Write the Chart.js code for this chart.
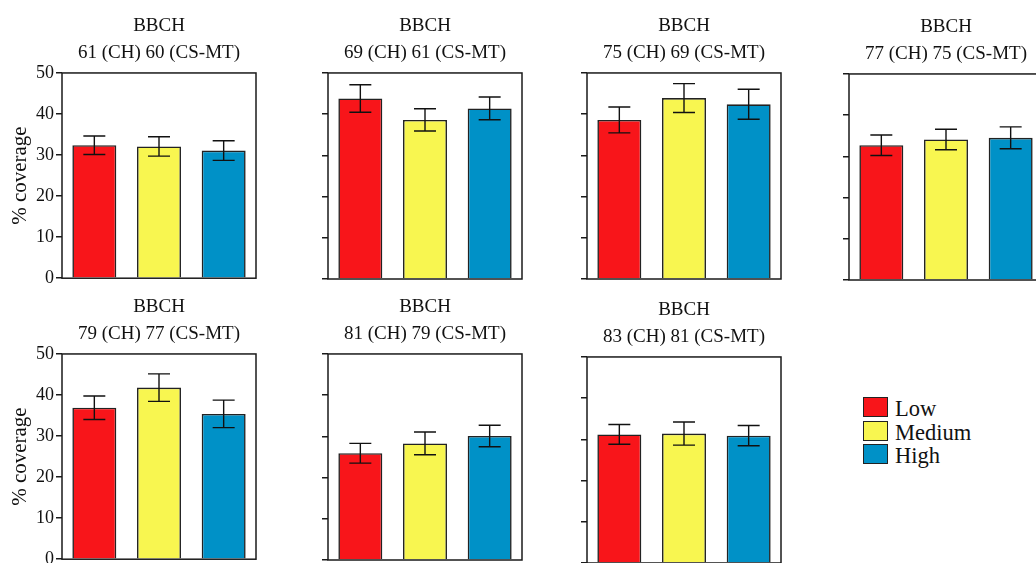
<!DOCTYPE html>
<html><head><meta charset="utf-8">
<script src="https://cdn.jsdelivr.net/npm/chart.js@4.4.1/dist/chart.umd.min.js"></script>
<style>
html,body{margin:0;padding:0;background:#fff;width:1036px;height:563px;overflow:hidden;position:relative;}
.panel{position:absolute;}
.lg-box{position:absolute;width:23.5px;height:18px;border:1.5px solid #222;}
.lg-text{position:absolute;font-family:'Liberation Serif','DejaVu Serif',serif;font-size:22.5px;line-height:22px;color:#111;white-space:nowrap;}
</style></head><body>
<script>
// ---- data ----
const stageLabels = ['61 (CH) 60 (CS-MT)','69 (CH) 61 (CS-MT)','75 (CH) 69 (CS-MT)','77 (CH) 75 (CS-MT)','79 (CH) 77 (CS-MT)','81 (CH) 79 (CS-MT)','83 (CH) 81 (CS-MT)'];
const levels = ['Low','Medium','High'];
const lowMean    = [32.4, 43.8, 38.6, 32.7, 36.9, 25.9, 31.2];
const mediumMean = [32.1, 38.6, 43.9, 34.1, 41.8, 28.3, 31.4];
const highMean   = [31.1, 41.4, 42.4, 34.5, 35.4, 30.1, 30.9];
const lowErr     = [2.25, 3.35, 3.15, 2.5, 2.85, 2.4, 2.4];
const mediumErr  = [2.35, 2.7, 3.5, 2.5, 3.35, 2.75, 2.8];
const highErr    = [2.4, 2.75, 3.65, 2.65, 3.35, 2.6, 2.45];
const yTickValues = [0, 10, 20, 30, 40, 50];
const yAxisTitle = '% coverage';
const panelTitle = 'BBCH';

// ---- style / layout ----
const colors = ['#f8151a', '#f8f650', '#0091c7'];
const FONT = "'Liberation Serif','DejaVu Serif',serif";
const PLOT_W = 194, PLOT_H = 206, TITLE_H = 73, PAD_R = 4, PAD_B = 12;
const panelPos = [
  {x:62, y:73, col:0}, {x:328, y:73, col:1}, {x:587, y:73, col:2}, {x:849, y:74, col:3},
  {x:62, y:354, col:0}, {x:328, y:354, col:1}, {x:587, y:357, col:2}
];

const framePlugin = {
  id:'frameAndErrors',
  afterDatasetsDraw(chart){
    const ctx = chart.ctx, a = chart.chartArea, y = chart.scales.y;
    ctx.save();
    ctx.strokeStyle = '#1a1a1a'; ctx.lineWidth = 1.5;
    ctx.strokeRect(a.left, a.top, a.right - a.left, a.bottom - a.top);
    const meta = chart.getDatasetMeta(0), ds = chart.data.datasets[0];
    ctx.strokeStyle = '#111'; ctx.lineWidth = 1.4;
    meta.data.forEach((bar, j) => {
      const v = ds.data[j], e = ds.errors[j];
      const yt = y.getPixelForValue(v + e), yb = y.getPixelForValue(v - e);
      const hw = bar.width / 4;
      ctx.beginPath();
      ctx.moveTo(bar.x, yt); ctx.lineTo(bar.x, yb);
      ctx.moveTo(bar.x - hw, yt); ctx.lineTo(bar.x + hw, yt);
      ctx.moveTo(bar.x - hw, yb); ctx.lineTo(bar.x + hw, yb);
      ctx.stroke();
    });
    ctx.restore();
  }
};

panelPos.forEach((p, i) => {
  const first = p.col === 0;
  const axisW = first ? 62 : 20;
  const W = axisW + PLOT_W + PAD_R, H = TITLE_H + PLOT_H + PAD_B;
  const div = document.createElement('div');
  div.className = 'panel';
  div.style.cssText = `left:${p.x - axisW}px;top:${p.y - TITLE_H}px;width:${W}px;height:${H}px;`;
  const c = document.createElement('canvas');
  div.appendChild(c); document.body.appendChild(div);
  new Chart(c, {
    type: 'bar',
    data: {
      labels: levels,
      datasets: [{
        data: [lowMean[i], mediumMean[i], highMean[i]],
        errors: [lowErr[i], mediumErr[i], highErr[i]],
        backgroundColor: colors,
        borderColor: '#222',
        borderWidth: 1.6,
        barPercentage: 0.68,
        categoryPercentage: 1.0
      }]
    },
    options: {
      responsive: true, maintainAspectRatio: false, animation: false, events: [],
      layout: { padding: { top: 0, left: 0, right: PAD_R, bottom: PAD_B } },
      plugins: {
        legend: { display: false }, tooltip: { enabled: false },
        title: {
          display: true, fullSize: false, text: [panelTitle, stageLabels[i]],
          color: '#111', font: { family: FONT, size: 19, weight: 'normal', lineHeight: 1.42 },
          padding: { top: 13, bottom: 6 }
        }
      },
      scales: {
        x: { display: false },
        y: {
          min: 0, max: 50,
          afterBuildTicks: (s) => { s.ticks = yTickValues.map(v => ({ value: v })); },
          afterFit: (s) => { s.width = axisW; },
          border: { display: false },
          grid: { display: true, drawOnChartArea: false, drawTicks: true, tickLength: 6, color: '#1a1a1a', lineWidth: 1.5 },
          ticks: { display: first, padding: 2, color: '#111', font: { family: FONT, size: 18 } },
          title: {
            display: first, text: yAxisTitle, color: '#111',
            font: { family: FONT, size: 21, lineHeight: 1.2 }, padding: { top: 8, bottom: 0 }
          }
        }
      }
    },
    plugins: [framePlugin]
  });
});

// ---- legend (HTML) ----
levels.forEach((name, k) => {
  const b = document.createElement('div');
  b.className = 'lg-box';
  b.style.cssText = `left:862.5px;top:${397.3 + k * 23.4}px;background:${colors[k]};`;
  document.body.appendChild(b);
  const t = document.createElement('div');
  t.className = 'lg-text';
  t.style.cssText = `left:895px;top:${398.3 + k * 23.2}px;`;
  t.textContent = name;
  document.body.appendChild(t);
});
</script>
</body></html>
